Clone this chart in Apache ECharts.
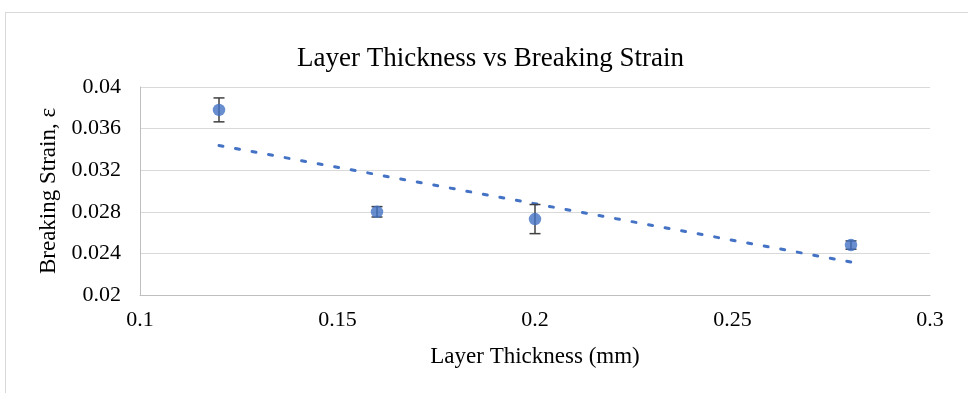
<!DOCTYPE html>
<html>
<head>
<meta charset="utf-8">
<script src="https://cdn.jsdelivr.net/npm/echarts@6/dist/echarts.min.js"></script>
<style>
  html, body { margin: 0; padding: 0; background: #fff; }
  #frame { position: absolute; left: 5px; top: 12px; width: 980px; height: 400px; border: 1px solid #d9d9d9; box-sizing: border-box; }
  #chart { position: absolute; left: 0; top: 0; width: 968px; height: 393px; }
</style>
</head>
<body>
<div id="frame"></div>
<div id="chart"></div>
<script>
// Layer thickness (mm) against measured breaking strain, with error bar half-widths
const thickness = [0.12, 0.16, 0.20, 0.28];
const strain = [0.0378, 0.0280, 0.0273, 0.0248];
const strainErr = [0.00115, 0.0005, 0.0014, 0.0004];
const xTicks = [0.1, 0.15, 0.2, 0.25, 0.3];
const yTicks = [0.02, 0.024, 0.028, 0.032, 0.036, 0.04];

// Least-squares linear trendline over the measured points
const n = thickness.length;
const mx = thickness.reduce((a, b) => a + b, 0) / n;
const my = strain.reduce((a, b) => a + b, 0) / n;
let sxy = 0, sxx = 0;
for (let i = 0; i < n; i++) {
  sxy += (thickness[i] - mx) * (strain[i] - my);
  sxx += (thickness[i] - mx) ** 2;
}
const slope = sxy / sxx;
const intercept = my - slope * mx;
const xFirst = thickness[0], xLast = thickness[n - 1];
const trend = [[xFirst, intercept + slope * xFirst], [xLast, intercept + slope * xLast]];

const font = '"Liberation Serif", "Times New Roman", serif';
const chart = echarts.init(document.getElementById('chart'));
chart.setOption({
  animation: false,
  title: {
    text: 'Layer Thickness vs Breaking Strain',
    left: 292, top: 40,
    textStyle: { fontFamily: font, fontSize: 27, fontWeight: 'normal', color: '#000' }
  },
  grid: { left: 140, right: 38, top: 87, bottom: 98 },
  xAxis: {
    type: 'value', min: xTicks[0], max: xTicks[xTicks.length - 1], interval: 0.05,
    name: 'Layer Thickness (mm)', nameLocation: 'middle', nameGap: 50,
    nameTextStyle: { fontFamily: font, fontSize: 23, color: '#000' },
    axisLine: { show: true, lineStyle: { color: '#bfbfbf', width: 1 } },
    axisTick: { show: false },
    splitLine: { show: false },
    axisLabel: {
      fontFamily: font, fontSize: 22, color: '#000', margin: 14,
      formatter: v => String(+v.toFixed(3))
    }
  },
  yAxis: {
    type: 'value', min: yTicks[0], max: yTicks[yTicks.length - 1], interval: 0.004,
    name: 'Breaking Strain, ε', nameLocation: 'middle', nameGap: 76,
    nameTextStyle: { fontFamily: font, fontSize: 23, color: '#000' },
    axisLine: { show: true, lineStyle: { color: '#bfbfbf', width: 1 } },
    axisTick: { show: false },
    splitLine: { show: true, lineStyle: { color: '#d9d9d9', width: 1 } },
    axisLabel: {
      fontFamily: font, fontSize: 22, color: '#000', margin: 19,
      formatter: v => String(+v.toFixed(3))
    }
  },
  series: [
    {
      type: 'line', data: trend, symbol: 'none', silent: true, z: 2,
      lineStyle: { color: '#4472c4', width: 3, type: [4, 12.8], cap: 'round' }
    },
    {
      type: 'custom', z: 3,
      data: thickness.map((x, i) => [x, strain[i] - strainErr[i], strain[i] + strainErr[i]]),
      renderItem: (params, api) => {
        const lo = api.coord([api.value(0), api.value(1)]);
        const hi = api.coord([api.value(0), api.value(2)]);
        const half = 5.5;
        const style = { stroke: '#404040', lineWidth: 1.5, fill: null };
        return {
          type: 'group',
          children: [
            { type: 'line', shape: { x1: lo[0], y1: lo[1], x2: hi[0], y2: hi[1] }, style },
            { type: 'line', shape: { x1: lo[0] - half, y1: lo[1], x2: lo[0] + half, y2: lo[1] }, style },
            { type: 'line', shape: { x1: hi[0] - half, y1: hi[1], x2: hi[0] + half, y2: hi[1] }, style }
          ]
        };
      }
    },
    {
      type: 'scatter', z: 4,
      data: thickness.map((x, i) => [x, strain[i]]),
      symbol: 'circle', symbolSize: 12.5,
      itemStyle: { color: '#4472c4' }
    }
  ]
});
</script>
</body>
</html>
